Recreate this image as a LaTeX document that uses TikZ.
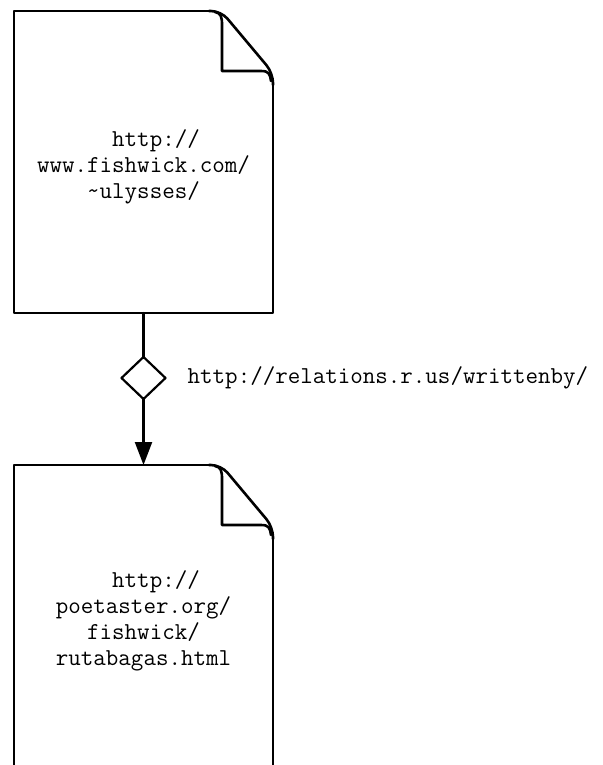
\documentclass[tikz,border=0pt]{standalone}
\usepackage{fontspec}
\usetikzlibrary{positioning,shapes.geometric,arrows.meta}
\begin{document}
\begin{tikzpicture}[x=1pt, y=-1pt, line join=round, line cap=round,
    >={Triangle[length=23pt,width=17pt]},
    font=\ttfamily\fontsize{24.3}{26}\selectfont,
    doc/.style={minimum width=259pt, minimum height=302pt, inner sep=0pt, outer sep=0pt},
    url/.style={align=center, inner sep=0pt},
    docline/.style={line width=2.6pt},
    rel/.style={draw, diamond, minimum width=44pt, minimum height=42pt, inner sep=0pt, outer sep=0pt, line width=2.2pt}]
  \useasboundingbox (0,0) rectangle (602,765);
  \node[doc] (home) at (143.5,162) {};
  \node[doc, below=152pt of home] (poem) {};
  \node[url] (homeurl) at ([yshift=-5pt]home.center) {\hphantom{xx}http://\\www.fishwick.com/\\\string~ulysses/};
  \node[url] (poemurl) at ([yshift=-5pt]poem.center) {\hphantom{xx}http://\\poetaster.org/\\fishwick/\\rutabagas.html};
  \node[rel, below=44pt of home] (link) {};
  \node[right=22pt of link, inner sep=0pt] (name) {http://relations.r.us/writtenby/};
  \draw[line width=2.2pt] (home) -- (link);
  \draw[line width=2.2pt, ->] (link) -- (poem);
  % folded corners
  \foreach \d in {home,poem}{
    \draw[docline] ([xshift=-64pt]\d.north east) -- (\d.north west) -- (\d.south west) -- (\d.south east) -- ([yshift=-74pt]\d.north east);
    \draw[docline, rounded corners=10pt] ([xshift=-64pt]\d.north east) -- ([xshift=-52pt]\d.north east) -- ([yshift=-62pt]\d.north east) -- ([yshift=-74pt]\d.north east);
    \draw[docline] ([xshift=-58pt,yshift=-1pt]\d.north east) .. controls +(6,1) and +(0,-8) .. ++(7,13) -- ++(0,46) -- ++(39,0) .. controls +(8,0) and +(-1,-7) .. ++(10,10);
  }
\end{tikzpicture}
\end{document}
